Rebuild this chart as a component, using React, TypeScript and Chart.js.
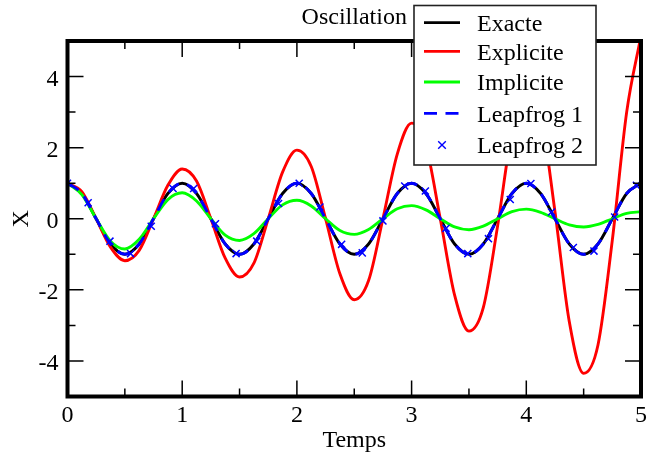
import React, { useEffect, useRef } from 'react';
import { Chart, registerables } from 'chart.js';
Chart.register(...registerables);

// ---- data ----
const temps = [0, 0.125, 0.25, 0.375, 0.5, 0.625, 0.75, 0.875, 1, 1.125, 1.25, 1.375, 1.5, 1.625, 1.75, 1.875, 2, 2.125, 2.25, 2.375, 2.5, 2.625, 2.75, 2.875, 3, 3.125, 3.25, 3.375, 3.5, 3.625, 3.75, 3.875, 4, 4.125, 4.25, 4.375, 4.5, 4.625, 4.75, 4.875, 5];
const exacte = [1, 0.71, 0, -0.71, -1, -0.71, 0, 0.71, 1, 0.71, 0, -0.71, -1, -0.71, 0, 0.71, 1, 0.71, 0, -0.71, -1, -0.71, 0, 0.71, 1, 0.71, 0, -0.71, -1, -0.71, 0, 0.71, 1, 0.71, 0, -0.71, -1, -0.71, 0, 0.71, 1];
const explicite = [1, 0.76, 0, -0.8, -1.18, -0.89, 0, 0.94, 1.4, 1.06, 0, -1.11, -1.64, -1.25, 0, 1.31, 1.93, 1.47, 0, -1.55, -2.28, -1.74, 0, 1.82, 2.69, 2.05, 0, -2.15, -3.16, -2.5, -0.2, 2.45, 3.74, 2.95, 0.2, -2.9, -4.35, -3.55, -0.6, 3.0, 5.15];
const implicite = [1, 0.68, 0, -0.63, -0.85, -0.58, 0, 0.54, 0.73, 0.5, 0, -0.46, -0.61, -0.42, 0, 0.39, 0.52, 0.36, 0, -0.33, -0.44, -0.3, 0, 0.28, 0.37, 0.25, 0, -0.23, -0.31, -0.21, 0, 0.2, 0.27, 0.18, 0, -0.17, -0.23, -0.16, 0, 0.15, 0.2];
const leapfrog1 = [1, 0.71, 0, -0.71, -1, -0.71, 0, 0.71, 1, 0.71, 0, -0.71, -1, -0.71, 0, 0.71, 1, 0.71, 0, -0.71, -1, -0.71, 0, 0.71, 1, 0.71, 0, -0.71, -1, -0.71, 0, 0.71, 1, 0.71, 0, -0.71, -1, -0.71, 0, 0.71, 1];
const leapfrog2T = [0, 0.18, 0.37, 0.55, 0.73, 0.92, 1.1, 1.29, 1.47, 1.65, 1.84, 2.02, 2.2, 2.39, 2.57, 2.75, 2.94, 3.12, 3.3, 3.49, 3.67, 3.86, 4.04, 4.22, 4.41, 4.59, 4.77, 4.96];
const leapfrog2X = [1.0, 0.45, -0.63, -0.98, -0.21, 0.85, 0.85, -0.14, -0.98, -0.63, 0.43, 1.0, 0.33, -0.72, -0.96, -0.06, 0.92, 0.78, -0.27, -0.98, -0.56, 0.54, 0.99, 0.19, -0.81, -0.91, 0.05, 0.94];

const seriesNames = ['Exacte', 'Explicite', 'Implicite', 'Leapfrog 1', 'Leapfrog 2'];
const seriesColors = ['#000000', '#ff0000', '#00ff00', '#0000ff', '#0000ff'];
const xMajorTicks = [0, 1, 2, 3, 4, 5];
const xMinorTicks = [0.5, 1.5, 2.5, 3.5, 4.5];
const yMajorTicks = [-4, -2, 0, 2, 4];
const yMinorTicks = [-3, -1, 1, 3];
const chartTitle = 'Oscillation';
const xTitle = 'Temps';
const yTitle = 'X';

const FONT = '"Liberation Serif", "Times New Roman", serif';

const decorPlugin = {
  id: 'decor',
  afterDatasetsDraw(chart: any) {
    const { ctx, chartArea: a, scales } = chart;
    const xs = scales.x, ys = scales.y;
    ctx.save();
    ctx.strokeStyle = '#000';
    ctx.lineWidth = 1.5;
    const major = 16, minor = 8;
    const hTick = (v: number, len: number) => {
      const px = xs.getPixelForValue(v);
      ctx.beginPath();
      ctx.moveTo(px, a.bottom); ctx.lineTo(px, a.bottom - len);
      ctx.moveTo(px, a.top); ctx.lineTo(px, a.top + len);
      ctx.stroke();
    };
    const vTick = (v: number, len: number) => {
      const py = ys.getPixelForValue(v);
      ctx.beginPath();
      ctx.moveTo(a.left, py); ctx.lineTo(a.left + len, py);
      ctx.moveTo(a.right, py); ctx.lineTo(a.right - len, py);
      ctx.stroke();
    };
    xMajorTicks.forEach(v => hTick(v, major));
    xMinorTicks.forEach(v => hTick(v, minor));
    yMajorTicks.forEach(v => vTick(v, major));
    yMinorTicks.forEach(v => vTick(v, minor));
    ctx.lineWidth = 4;
    ctx.strokeRect(a.left, a.top, a.right - a.left, a.bottom - a.top);
    ctx.restore();
  },
  afterDraw(chart: any) {
    const { ctx, chartArea: a } = chart;
    ctx.save();
    ctx.fillStyle = '#000';
    ctx.font = `24px ${FONT}`;
    ctx.textAlign = 'center';
    ctx.textBaseline = 'alphabetic';
    ctx.fillText(chartTitle, (a.left + a.right) / 2, 23.5);
    const bx = 414, by = 5.5, bw = 182, bh = 159.5;
    ctx.fillStyle = '#fff';
    ctx.fillRect(bx, by, bw, bh);
    ctx.strokeStyle = '#222';
    ctx.lineWidth = 1.6;
    ctx.strokeRect(bx, by, bw, bh);
    const rows = [22.7, 51.3, 82, 113.3, 145];
    const x0 = 424, x1 = 460, tx = 477;
    seriesNames.forEach((name, i) => {
      const y = rows[i];
      ctx.strokeStyle = seriesColors[i];
      ctx.lineWidth = 2.8;
      if (i < 4) {
        ctx.setLineDash(i === 3 ? [13, 8.5] : []);
        ctx.beginPath();
        ctx.moveTo(x0, y); ctx.lineTo(x1, y);
        ctx.stroke();
        ctx.setLineDash([]);
      } else {
        ctx.lineWidth = 1.4;
        const c = (x0 + x1) / 2, r = 3.8;
        ctx.beginPath();
        ctx.moveTo(c - r, y - r); ctx.lineTo(c + r, y + r);
        ctx.moveTo(c - r, y + r); ctx.lineTo(c + r, y - r);
        ctx.stroke();
      }
      ctx.fillStyle = '#000';
      ctx.font = `24px ${FONT}`;
      ctx.textAlign = 'left';
      ctx.textBaseline = 'alphabetic';
      ctx.fillText(name, tx, y + 8.3);
    });
    ctx.restore();
  },
};

export default function App() {
  const ref = useRef<HTMLCanvasElement | null>(null);
  useEffect(() => {
    document.body.style.margin = '0';
    const canvas = ref.current;
    if (!canvas) return;
    const pts = (xs: number[], ys: number[]) => xs.map((x, i) => ({ x, y: ys[i] }));
    const lineDs = (i: number, data: number[], order: number, dash: number[] = []) => ({
      label: seriesNames[i],
      data: pts(temps, data),
      borderColor: seriesColors[i],
      backgroundColor: seriesColors[i],
      borderWidth: 2.9,
      borderDash: dash,
      pointRadius: 0,
      fill: false,
      cubicInterpolationMode: 'monotone' as const,
      order,
    });
    const chart = new Chart(canvas, {
      type: 'line',
      data: {
        datasets: [
          lineDs(0, exacte, 5),
          lineDs(1, explicite, 4),
          lineDs(2, implicite, 3),
          lineDs(3, leapfrog1, 2, [13, 8.5]),
          {
            label: seriesNames[4],
            data: pts(leapfrog2T, leapfrog2X),
            showLine: false,
            borderColor: seriesColors[4],
            backgroundColor: seriesColors[4],
            pointStyle: 'crossRot',
            pointRadius: 5,
            pointBorderWidth: 1.5,
            pointBorderColor: seriesColors[4],
            order: 1,
          } as any,
        ],
      },
      options: {
        responsive: false,
        animation: false,
        events: [],
        layout: { padding: { top: 41, right: 7, left: 0, bottom: 0 } },
        plugins: { legend: { display: false }, title: { display: false }, tooltip: { enabled: false } },
        scales: {
          x: {
            type: 'linear',
            min: 0,
            max: 5,
            afterFit: (s: any) => { s.height = 62.5; },
            grid: { display: false, drawTicks: false },
            border: { display: false },
            ticks: {
              stepSize: 1,
              padding: 5,
              color: '#000',
              font: { family: FONT, size: 24 },
              callback: (v: any) => String(v),
            },
            title: { display: true, text: xTitle, color: '#000', font: { family: FONT, size: 24 }, padding: { top: 0, bottom: 4 } },
          },
          y: {
            type: 'linear',
            min: -5,
            max: 5,
            afterFit: (s: any) => { s.width = 67.5; },
            grid: { display: false, drawTicks: false },
            border: { display: false },
            ticks: {
              stepSize: 1,
              padding: 9,
              labelOffset: 3,
              color: '#000',
              font: { family: FONT, size: 24 },
              callback: (v: any) => (yMajorTicks.includes(Number(v)) ? String(v) : ''),
            },
            title: { display: true, text: yTitle, color: '#000', font: { family: FONT, size: 24 }, padding: { top: 7, bottom: 0 } },
          },
        },
      },
      plugins: [decorPlugin],
    });
    return () => chart.destroy();
  }, []);
  return <canvas ref={ref} width={652} height={459} style={{ display: 'block' }} />;
}
